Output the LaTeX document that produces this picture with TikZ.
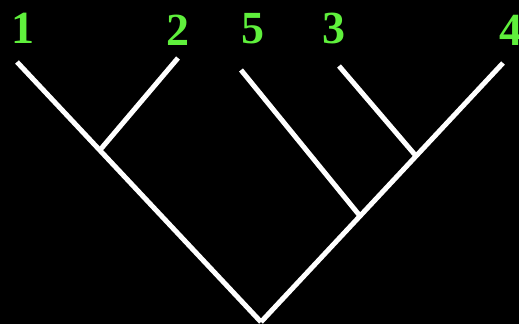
\documentclass[tikz,border=0pt]{standalone}
\usepackage{fontspec}
\setmainfont{Liberation Serif}
\definecolor{leafgreen}{RGB}{95,240,60}
\begin{document}
\begin{tikzpicture}[x=1pt,y=-1pt,
  branch/.style={draw=white,line width=5pt,line cap=butt},
  leaflabel/.style={text=leafgreen,font=\fontsize{46}{46}\selectfont\bfseries,anchor=base,inner sep=0pt}]
\fill[black] (0,0) rectangle (519,324);
\useasboundingbox (0,0) rectangle (519,324);
% internal points
\coordinate (R) at (261,322);
\coordinate (A) at (100,150);
\coordinate (B) at (416,156);
\coordinate (C) at (360,216);
% leaves
\coordinate (L1) at (17,62);
\coordinate (L2) at (178,58);
\coordinate (L5) at (241,70);
\coordinate (L3) at (339,66);
\coordinate (L4) at (503,63);
% labels
\node[leaflabel] (t1) at (23,43) {1};
\node[leaflabel] (t2) at (177.5,45) {2};
\node[leaflabel] (t5) at (252.5,43) {5};
\node[leaflabel] (t3) at (333.5,43) {3};
\node[leaflabel] (t4) at (511,45) {4};
% branches
\draw[branch] (L1) -- (R);
\draw[branch] (L4) -- (R);
\draw[branch] (L2) -- (A);
\draw[branch] (L5) -- (C);
\draw[branch] (L3) -- (B);
\end{tikzpicture}
\end{document}
